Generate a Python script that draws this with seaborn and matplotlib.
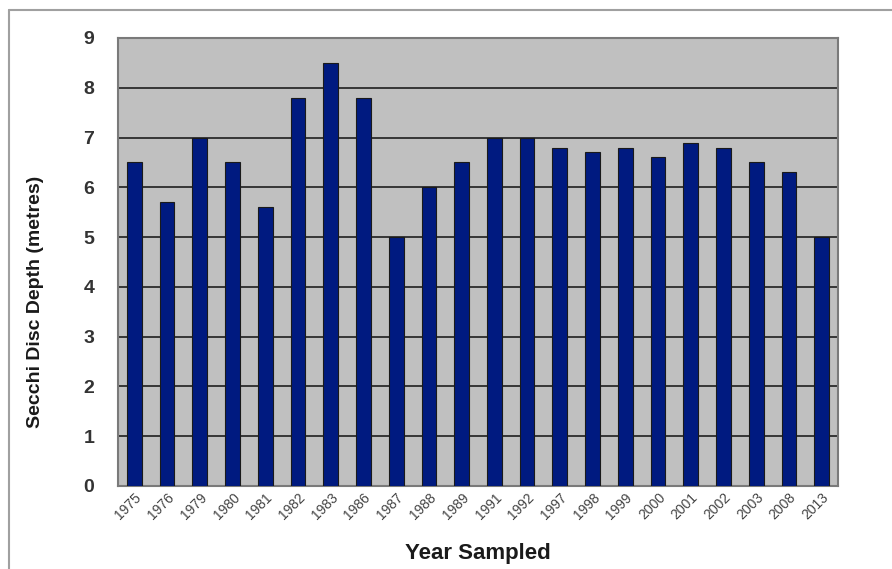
import numpy as np
import pandas as pd
import matplotlib.pyplot as plt
from matplotlib.lines import Line2D
import seaborn as sns

years = ['1975', '1976', '1979', '1980', '1981', '1982', '1983', '1986', '1987', '1988', '1989',
         '1991', '1992', '1997', '1998', '1999', '2000', '2001', '2002', '2003', '2008', '2013']
depth = [6.5, 5.7, 7.0, 6.5, 5.6, 7.8, 8.5, 7.8, 5.0, 6.0, 6.5,
         7.0, 7.0, 6.8, 6.7, 6.8, 6.6, 6.9, 6.8, 6.5, 6.3, 5.0]

df = pd.DataFrame({'year': years, 'depth': depth})

sns.set_style('white')
plt.rcParams['font.family'] = ['Liberation Sans', 'DejaVu Sans']

fig = plt.figure(figsize=(8.92, 5.69), dpi=100)
ax = fig.add_axes([118 / 892, 83 / 569, 720 / 892, 448 / 569])
ax.set_facecolor('#c0c0c0')

sns.barplot(data=df, x='year', y='depth', color='#001a80', saturation=1,
            width=0.45, edgecolor='#1a1a1a', linewidth=0.8, ax=ax, zorder=3)

ax.set_ylim(0, 9)
ax.set_xlim(-0.5, len(years) - 0.5)
ax.set_yticks(range(10))
ax.yaxis.grid(True, color='#2b2b2b', linewidth=1.3, zorder=1)
ax.set_axisbelow(True)
for s in ax.spines.values():
    s.set_color('#7a7a7a')
    s.set_linewidth(1.5)

ax.tick_params(axis='y', which='major', direction='out', length=7, width=1,
               color='#7a7a7a', labelsize=14, labelcolor='#333333', pad=10)
for t in ax.get_yticklabels():
    t.set_fontweight('bold')

# category labels centred on bars, tick marks at category boundaries
ax.tick_params(axis='x', which='major', length=0, labelsize=10, labelcolor='#444444', pad=3)
ax.set_xticks(np.arange(len(years)))
ax.set_xticklabels(years, rotation=45, ha='right', rotation_mode='anchor')
ax.set_xticks(np.arange(len(years) + 1) - 0.5, minor=True)
ax.tick_params(axis='x', which='minor', direction='out', length=5, width=1, color='#7a7a7a')

ax.set_xlabel('Year Sampled', fontsize=16, fontweight='bold', color='#1a1a1a')
ax.xaxis.label.set_va('center')
ax.xaxis.set_label_coords(0.5, -0.15)
ax.set_ylabel('Secchi Disc Depth (metres)', fontsize=14, fontweight='bold', color='#1a1a1a')
ax.yaxis.label.set_va('center')
ax.yaxis.set_label_coords(-0.115, 0.41)

# outer chart frame
fig.add_artist(Line2D([9 / 892, 9 / 892], [0, 559 / 569], color='#a0a0a0', linewidth=1.5,
                      transform=fig.transFigure))
fig.add_artist(Line2D([9 / 892, 1], [559 / 569, 559 / 569], color='#a0a0a0', linewidth=1.5,
                      transform=fig.transFigure))

fig.savefig('out.png', dpi=100)
